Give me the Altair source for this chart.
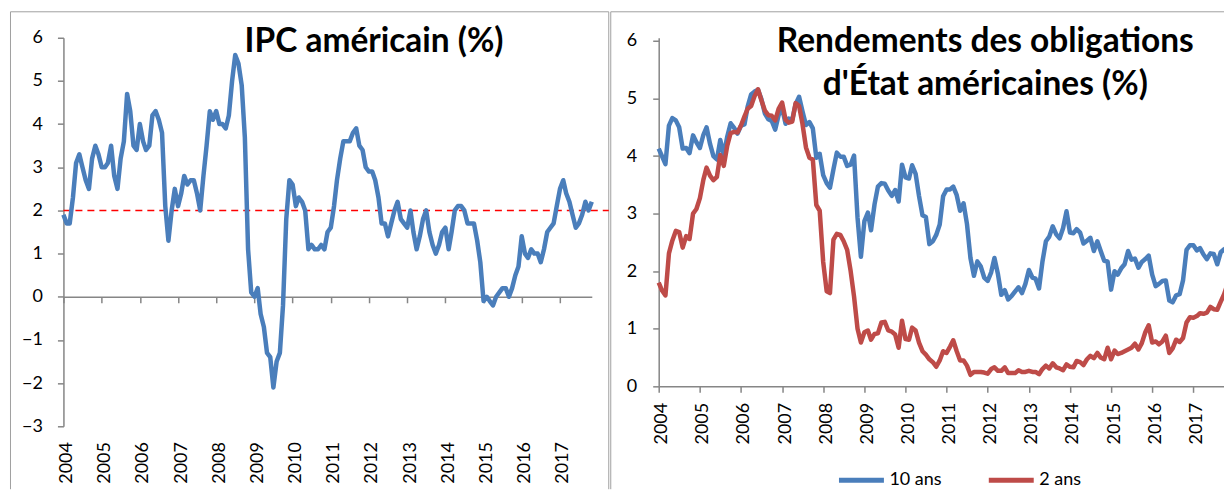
import altair as alt
import pandas as pd

# ---------------- data ----------------
# US CPI, year-on-year %, monthly Jan 2004 - Nov 2017
cpi = [1.9, 1.7, 1.7, 2.3, 3.1, 3.3, 3.0, 2.7, 2.5, 3.2, 3.5, 3.3,
       3.0, 3.0, 3.1, 3.5, 2.8, 2.5, 3.2, 3.6, 4.7, 4.3, 3.5, 3.4,
       4.0, 3.6, 3.4, 3.5, 4.2, 4.3, 4.1, 3.8, 2.1, 1.3, 2.0, 2.5,
       2.1, 2.4, 2.8, 2.6, 2.7, 2.7, 2.4, 2.0, 2.8, 3.5, 4.3, 4.1,
       4.3, 4.0, 4.0, 3.9, 4.2, 5.0, 5.6, 5.4, 4.9, 3.7, 1.1, 0.1,
       0.0, 0.2, -0.4, -0.7, -1.3, -1.4, -2.1, -1.5, -1.3, -0.2, 1.8, 2.7,
       2.6, 2.1, 2.3, 2.2, 2.0, 1.1, 1.2, 1.1, 1.1, 1.2, 1.1, 1.5,
       1.6, 2.1, 2.7, 3.2, 3.6, 3.6, 3.6, 3.8, 3.9, 3.5, 3.4, 3.0,
       2.9, 2.9, 2.7, 2.3, 1.7, 1.7, 1.4, 1.7, 2.0, 2.2, 1.8, 1.7,
       1.6, 2.0, 1.5, 1.1, 1.4, 1.8, 2.0, 1.5, 1.2, 1.0, 1.2, 1.5,
       1.6, 1.1, 1.5, 2.0, 2.1, 2.1, 2.0, 1.7, 1.7, 1.7, 1.3, 0.8,
       -0.1, 0.0, -0.1, -0.2, 0.0, 0.1, 0.2, 0.2, 0.0, 0.2, 0.5, 0.7,
       1.4, 1.0, 0.9, 1.1, 1.0, 1.0, 0.8, 1.1, 1.5, 1.6, 1.7, 2.1,
       2.5, 2.7, 2.4, 2.2, 1.9, 1.6, 1.7, 1.9, 2.2, 2.0, 2.2]

# US Treasury yields (%), monthly Jan 2004 - Dec 2017
y10 = [4.13, 3.99, 3.86, 4.53, 4.66, 4.62, 4.50, 4.13, 4.14, 4.05, 4.36, 4.24,
       4.14, 4.37, 4.50, 4.21, 4.00, 3.94, 4.28, 4.02, 4.34, 4.57, 4.49, 4.39,
       4.53, 4.55, 4.86, 5.07, 5.12, 5.15, 4.99, 4.74, 4.64, 4.61, 4.46, 4.71,
       4.83, 4.56, 4.65, 4.63, 4.90, 5.03, 4.78, 4.54, 4.59, 4.48, 3.97, 4.04,
       3.67, 3.53, 3.45, 3.77, 4.06, 3.99, 3.99, 3.83, 3.85, 4.01, 2.93, 2.25,
       2.87, 3.02, 2.71, 3.16, 3.47, 3.53, 3.52, 3.40, 3.31, 3.41, 3.21, 3.85,
       3.63, 3.61, 3.84, 3.69, 3.31, 2.97, 2.94, 2.47, 2.52, 2.63, 2.81, 3.30,
       3.42, 3.42, 3.47, 3.32, 3.05, 3.18, 2.82, 2.23, 1.92, 2.17, 2.08, 1.89,
       1.83, 1.98, 2.23, 1.95, 1.59, 1.67, 1.51, 1.57, 1.65, 1.72, 1.62, 1.78,
       2.02, 1.89, 1.87, 1.70, 2.16, 2.52, 2.60, 2.78, 2.64, 2.57, 2.75, 3.04,
       2.67, 2.66, 2.73, 2.67, 2.48, 2.53, 2.58, 2.35, 2.52, 2.35, 2.18, 2.17,
       1.68, 2.00, 1.94, 2.05, 2.12, 2.35, 2.20, 2.22, 2.06, 2.16, 2.21, 2.27,
       1.94, 1.74, 1.78, 1.83, 1.84, 1.49, 1.46, 1.58, 1.60, 1.84, 2.37, 2.45,
       2.45, 2.36, 2.40, 2.29, 2.21, 2.31, 2.30, 2.12, 2.33, 2.38, 2.42, 2.40]

y2 = [1.80, 1.66, 1.58, 2.31, 2.53, 2.70, 2.68, 2.41, 2.61, 2.56, 3.00, 3.08,
      3.27, 3.59, 3.80, 3.66, 3.58, 3.64, 4.02, 3.83, 4.18, 4.40, 4.42, 4.41,
      4.53, 4.69, 4.82, 4.87, 5.04, 5.16, 4.97, 4.79, 4.71, 4.70, 4.62, 4.82,
      4.93, 4.63, 4.58, 4.60, 4.92, 4.87, 4.56, 4.15, 3.97, 3.94, 3.15, 3.05,
      2.16, 1.65, 1.62, 2.55, 2.65, 2.63, 2.52, 2.37, 2.00, 1.56, 1.00, 0.76,
      0.94, 0.97, 0.81, 0.91, 0.92, 1.11, 1.12, 0.97, 0.95, 0.90, 0.67, 1.14,
      0.82, 0.81, 1.02, 0.97, 0.76, 0.61, 0.55, 0.47, 0.42, 0.34, 0.45, 0.61,
      0.58, 0.69, 0.80, 0.61, 0.45, 0.45, 0.36, 0.20, 0.25, 0.25, 0.25, 0.24,
      0.22, 0.30, 0.33, 0.27, 0.27, 0.33, 0.23, 0.23, 0.23, 0.28, 0.25, 0.25,
      0.27, 0.25, 0.25, 0.21, 0.30, 0.36, 0.31, 0.40, 0.33, 0.31, 0.28, 0.38,
      0.34, 0.33, 0.44, 0.42, 0.37, 0.47, 0.53, 0.49, 0.58, 0.50, 0.47, 0.67,
      0.47, 0.62, 0.56, 0.58, 0.61, 0.64, 0.67, 0.74, 0.64, 0.75, 0.94, 1.06,
      0.76, 0.78, 0.73, 0.78, 0.88, 0.58, 0.66, 0.81, 0.77, 0.84, 1.11, 1.20,
      1.19, 1.22, 1.27, 1.26, 1.28, 1.38, 1.34, 1.33, 1.47, 1.60, 1.78, 1.89]

series_names = ["10 ans", "2 ans"]
series_colors = ["#4A7EBB", "#BE4B48"]
years = list(range(2004, 2018))
target = [2]
title_left = ["IPC américain (%)"]
title_right = ["Rendements des obligations", "d'État américaines (%)"]

# ---------------- frames ----------------
dates_l = pd.date_range("2004-01-01", periods=len(cpi), freq="MS")
dates_r = pd.date_range("2004-01-01", periods=len(y10), freq="MS")
left_df = pd.DataFrame({"date": dates_l, "cpi": cpi})
right_df = pd.DataFrame({
    "date": list(dates_r) * 2,
    "value": y10 + y2,
    "serie": [series_names[0]] * len(y10) + [series_names[1]] * len(y2),
})
one = pd.DataFrame({"k": [0]})
target_df = pd.DataFrame({"target": target})

FONT = "Lato"
AXIS_COLOR = "#868686"
BORDER = "#a0a0a0"
TITLE_SIZE = 33.5
LINE_W = 4.5
year_ticks = [alt.DateTime(year=y, month=1, date=1) for y in years]

# ---------------- left panel ----------------
LW, LH = 529, 389
zero_from_bottom = LH * 3 / 9.0

x_left = alt.X(
    "date:T",
    scale=alt.Scale(domain=[alt.DateTime(year=2004, month=1, date=1),
                            alt.DateTime(year=2017, month=11, date=1)]),
    axis=alt.Axis(values=year_ticks, format="%Y", labelAngle=-90, title=None,
                  offset=-zero_from_bottom, tickSize=6, labelPadding=139,
                  labelOffset=3, grid=False),
)
y_left = alt.Y(
    "cpi:Q",
    scale=alt.Scale(domain=[-3, 6], nice=False),
    axis=alt.Axis(values=list(range(-3, 7)), title=None, tickSize=6,
                  labelPadding=15, grid=False),
)

left_line = alt.Chart(left_df).mark_line(color=series_colors[0], strokeWidth=LINE_W,
                                         strokeJoin="round").encode(x=x_left, y=y_left)
left_target = alt.Chart(target_df).mark_rule(color="#FF0000", strokeWidth=1.5,
                                             strokeDash=[7, 5]).encode(
    y=alt.Y("target:Q"), x=alt.value(0), x2=alt.value(546))
left_title = alt.Chart(one).mark_text(text=title_left[0], font=FONT, fontSize=TITLE_SIZE,
                                      fontWeight="bold", align="center",
                                      baseline="alphabetic", color="black").encode(
    x=alt.value(311), y=alt.value(14))
lb_left = alt.Chart(one).mark_rule(color=BORDER, strokeWidth=1).encode(
    x=alt.value(-53), y=alt.value(-26), y2=alt.value(452))
lb_top = alt.Chart(one).mark_rule(color=BORDER, strokeWidth=1).encode(
    x=alt.value(-53), x2=alt.value(546), y=alt.value(-26))
lb_right = alt.Chart(one).mark_rule(color=BORDER, strokeWidth=1).encode(
    x=alt.value(546), y=alt.value(-26), y2=alt.value(452))

left = alt.layer(lb_left, lb_top, lb_right, left_target, left_line, left_title).properties(
    width=LW, height=LH)

# ---------------- right panel ----------------
RW, RH = 573, 349
x_right = alt.X(
    "date:T",
    scale=alt.Scale(domain=[alt.DateTime(year=2004, month=1, date=1),
                            alt.DateTime(year=2017, month=12, date=1)]),
    axis=alt.Axis(values=year_ticks, format="%Y", labelAngle=-90, title=None,
                  tickSize=6, labelPadding=10, labelOffset=3, grid=False),
)
y_right = alt.Y(
    "value:Q",
    scale=alt.Scale(domain=[0, 6.055], nice=False),
    axis=alt.Axis(values=list(range(0, 7)), title=None, tickSize=6,
                  labelPadding=16, grid=False),
)
color = alt.Color(
    "serie:N",
    scale=alt.Scale(domain=series_names, range=series_colors),
    legend=alt.Legend(title=None, orient="none", direction="horizontal",
                      legendX=178, legendY=418, symbolType="stroke",
                      symbolSize=2025, symbolStrokeWidth=5, labelFont=FONT,
                      labelFontSize=18, labelColor="black", labelOffset=3,
                      columnPadding=36, padding=0),
)
right_lines = alt.Chart(right_df).mark_line(strokeWidth=LINE_W, strokeJoin="round").encode(
    x=x_right, y=y_right, color=color, order=alt.Order("serie:N", sort="ascending"))
right_title = alt.Chart(one).mark_text(text=title_right, font=FONT, fontSize=TITLE_SIZE,
                                       fontWeight="bold", align="center",
                                       baseline="alphabetic", lineHeight=43,
                                       color="black").encode(
    x=alt.value(327), y=alt.value(14))
rb_left = alt.Chart(one).mark_rule(color=BORDER, strokeWidth=1).encode(
    x=alt.value(-48), y=alt.value(-26), y2=alt.value(452))
rb_top = alt.Chart(one).mark_rule(color=BORDER, strokeWidth=1).encode(
    x=alt.value(-48), x2=alt.value(RW), y=alt.value(-26))

right = alt.layer(rb_left, rb_top, right_lines, right_title).properties(width=RW, height=RH)

chart = alt.hconcat(left, right, spacing=67, bounds="flush").resolve_scale(
    color="independent").resolve_legend(color="independent").properties(
    padding={"left": 1.5, "top": 2.5, "right": -10, "bottom": 0},
    background="white",
).configure_view(stroke=None).configure_axis(
    domainColor=AXIS_COLOR, tickColor=AXIS_COLOR, domainWidth=1.5, tickWidth=1.5,
    labelFont=FONT, labelFontSize=18, labelColor="black",
)

chart.save("out.html", embed_options={"renderer": "svg", "actions": False})
